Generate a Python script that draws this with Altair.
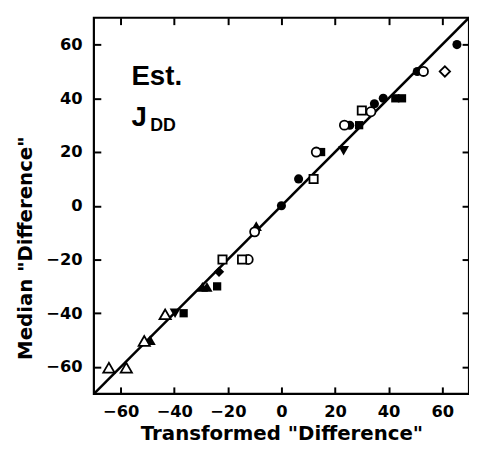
import altair as alt
import pandas as pd

# ---- data ----
# kind codes: first letter f=filled / o=open ; second letter c=circle, s=square,
# t=triangle-up, v=triangle-down, d=diamond
fc_x = [65.5, 50.7, 38.0, 34.7, 25.5, 6.4, 0.0]
fc_y = [60.0, 50.0, 40.0, 38.0, 30.0, 10.0, 0.0]
oc_x = [53.0, 33.4, 23.5, 13.0, -10.0, -12.4]
oc_y = [50.0, 35.0, 30.0, 20.0, -9.7, -20.0]
fs_x = [42.5, 45.0, 29.0, 14.8, -24.0, -36.5]
fs_y = [40.0, 40.0, 30.0, 20.0, -30.0, -40.0]
os_x = [30.0, 12.0, -14.7, -22.0]
os_y = [35.5, 10.0, -20.0, -20.0]
ft_x = [-9.4, -29.5, -27.8, -49.0]
ft_y = [-7.6, -30.2, -30.2, -50.0]
ot_x = [-43.4, -51.2, -64.4, -57.9]
ot_y = [-40.4, -50.3, -60.3, -60.3]
fv_x = [23.2, -39.7]
fv_y = [20.5, -40.0]
fd_x = [-23.3]
fd_y = [-24.6]
od_x = [61.0]
od_y = [50.0]

diag_x = [-70, 70]
diag_y = [-70, 70]
tick_values = [-60, -40, -20, 0, 20, 40, 60]
annot_text = ["Est.", "J", "DD"]
x_title = 'Transformed "Difference"'
y_title = 'Median "Difference"'

shape_of = {"c": "circle", "s": "square", "t": "triangle-up",
            "v": "triangle-down", "d": "diamond"}
shape_size = [85, 70, 130, 120, 110]
groups = {"fc": (fc_x, fc_y), "oc": (oc_x, oc_y), "fs": (fs_x, fs_y),
          "os": (os_x, os_y), "ft": (ft_x, ft_y), "ot": (ot_x, ot_y),
          "fv": (fv_x, fv_y), "fd": (fd_x, fd_y), "od": (od_x, od_y)}
rows = []
for k, (gx, gy) in groups.items():
    for a, b in zip(gx, gy):
        rows.append({"x": a, "y": b, "fill": "filled" if k[0] == "f" else "open",
                     "shape": shape_of[k[1]]})
df = pd.DataFrame(rows)
line_df = pd.DataFrame({"x": diag_x, "y": diag_y})

FONT = "DejaVu Sans"
xs = alt.Scale(domain=[-70, 70], nice=False, zero=False)
ys = alt.Scale(domain=[-70, 70], nice=False, zero=False)

common = dict(values=tick_values, domain=False, grid=False, ticks=True,
              tickSize=7, tickWidth=2, tickColor="black", offset=-7)

x_bottom = alt.Axis(orient="bottom", title=x_title, labelPadding=10,
                    titlePadding=4, labelFont=FONT, labelFontSize=16.5,
                    labelFontWeight="bold", labelColor="black",
                    titleFont=FONT, titleFontSize=20, titleFontWeight="bold",
                    titleColor="black", **common)
y_left = alt.Axis(orient="left", title=y_title, labelPadding=12,
                  titlePadding=10, labelFont=FONT, labelFontSize=16.5,
                  labelFontWeight="bold", labelColor="black",
                  titleFont=FONT, titleFontSize=20, titleFontWeight="bold",
                  titleColor="black", titleY=233, **common)
x_top = alt.Axis(orient="top", labels=False, title=None, **common)
y_right = alt.Axis(orient="right", labels=False, title=None, **common)

diag = alt.Chart(line_df).mark_line(color="black", strokeWidth=2.5).encode(
    x=alt.X("x:Q", scale=xs, axis=x_bottom),
    y=alt.Y("y:Q", scale=ys, axis=y_left),
)
frame = alt.Chart(line_df).mark_line(opacity=0).encode(
    x=alt.X("x:Q", scale=xs, axis=x_top),
    y=alt.Y("y:Q", scale=ys, axis=y_right),
)

shape_enc = alt.Shape("shape:N",
                      scale=alt.Scale(domain=list(shape_of.values()),
                                      range=list(shape_of.values())),
                      legend=None)
size_enc = alt.Size("shape:N",
                    scale=alt.Scale(type="ordinal",
                                    domain=list(shape_of.values()),
                                    range=shape_size),
                    legend=None)

filled_pts = alt.Chart(df).transform_filter(alt.datum.fill == "filled").mark_point(
    filled=True, color="black", opacity=1
).encode(
    x=alt.X("x:Q", scale=xs, axis=None),
    y=alt.Y("y:Q", scale=ys, axis=None),
    shape=shape_enc, size=size_enc,
)
open_pts = alt.Chart(df).transform_filter(alt.datum.fill == "open").mark_point(
    filled=False, fill="white", fillOpacity=1, stroke="black", strokeWidth=1.8,
    opacity=1
).encode(
    x=alt.X("x:Q", scale=xs, axis=None),
    y=alt.Y("y:Q", scale=ys, axis=None),
    shape=shape_enc, size=size_enc,
)

t_est = alt.Chart(pd.DataFrame({"t": [annot_text[0]]})).mark_text(
    font="Liberation Sans", fontSize=28, fontWeight="bold", align="left",
    baseline="alphabetic", color="black"
).encode(x=alt.value(38), y=alt.value(68), text="t:N")
t_j = alt.Chart(pd.DataFrame({"t": [annot_text[1]]})).mark_text(
    font="Liberation Sans", fontSize=28, fontWeight="bold", align="left",
    baseline="alphabetic", color="black"
).encode(x=alt.value(38), y=alt.value(110), text="t:N")
t_dd = alt.Chart(pd.DataFrame({"t": [annot_text[2]]})).mark_text(
    font="Liberation Sans", fontSize=18, fontWeight="bold", align="left",
    baseline="alphabetic", color="black"
).encode(x=alt.value(57), y=alt.value(115), text="t:N")

chart = alt.layer(diag, frame, filled_pts, open_pts, t_est, t_j, t_dd).resolve_axis(
    x="independent", y="independent"
).properties(
    width=380, height=381,
    autosize=alt.AutoSizeParams(type="none"),
    padding={"left": 87, "top": 7, "right": 0, "bottom": 50},
    background="white",
).configure_view(stroke="black", strokeWidth=2.2)

chart.save("out.html", embed_options={"renderer": "svg", "actions": False})
